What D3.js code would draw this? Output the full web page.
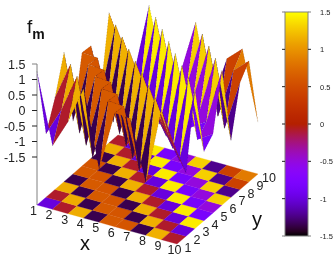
<!DOCTYPE html>
<html><head><meta charset="utf-8">
<script src="https://cdnjs.cloudflare.com/ajax/libs/d3/7.8.5/d3.min.js"></script>
<style>html,body{margin:0;padding:0;background:#fff}svg{display:block;filter:blur(0.3px)}text{font-family:"Liberation Sans",Arial,sans-serif}</style>
</head><body><svg id="c" width="336" height="256"></svg>
<script>
// surface height for each value of x+y (2..20)
const sumKeys = [2,3,4,5,6,7,8,9,10,11,12,13,14,15,16,17,18,19,20];
const surfaceZ = [1.26,-1.0,-0.08,1.13,-1.35,0.62,0.58,-1.35,1.15,-0.08,-1.0,1.42,-0.82,-0.5,1.3,-1.22,0.4,0.85,-1.39];
const xTicks = [1,2,3,4,5,6,7,8,9,10];
const yTicks = [1,2,3,4,5,6,7,8,9,10];
const zTicks = [1.5,1,0.5,0,-0.5,-1,-1.5];
const cbTicks = [1.5,1,0.5,0,-0.5,-1,-1.5];

const svg = d3.select('#c');
const zOf = new Map(sumKeys.map((s,k)=>[s,surfaceZ[k]]));
const palette = t => {
  t=Math.max(0,Math.min(1,t));
  const r=Math.sqrt(t), g=t*t*t, b=Math.max(0,Math.sin(2*Math.PI*t));
  return `rgb(${Math.round(r*255)},${Math.round(g*255)},${Math.round(b*255)})`;
};
const color = d3.scaleSequential(palette).domain([-1.5,1.5]);

// oblique 3D projection expressed through linear scales
const xToPx = d3.scaleLinear().domain([1,10]).range([0,140]);
const xToPy = d3.scaleLinear().domain([1,10]).range([0,39]);
const yToPx = d3.scaleLinear().domain([1,10]).range([0,81]);
const yToPy = d3.scaleLinear().domain([1,10]).range([0,-70]);
const zToPy = d3.scaleLinear().domain([-1.5,1.5]).range([157,64]);
const X0=37, FLOOR=205;
const px=(x,y)=>X0+xToPx(x)+yToPx(y);
const py=(x,y,z)=>zToPy(z)+xToPy(x)+yToPy(y);
const floorY=(x,y)=>FLOOR+xToPy(x)+yToPy(y);

const cells=[];
for(const i of xTicks.slice(0,-1)) for(const j of yTicks.slice(0,-1)) cells.push({i,j,c:zOf.get(i+j+1)});
const corners=d=>[[d.i,d.j],[d.i+1,d.j],[d.i+1,d.j+1],[d.i,d.j+1]];

// z axis
const axisCol='#808080';
svg.append('line').attr('x1',X0).attr('x2',X0).attr('y1',zToPy(1.5)).attr('y2',FLOOR).attr('stroke',axisCol).attr('stroke-width',1);
svg.selectAll('.zt').data(zTicks).enter().append('line').attr('x1',X0-5).attr('x2',X0).attr('y1',zToPy).attr('y2',zToPy).attr('stroke',(d,k)=>k==0?axisCol:'#222').attr('stroke-width',1);
svg.selectAll('.zl').data(zTicks).enter().append('text').attr('x',X0-11.5).attr('y',d=>zToPy(d)+4.5).attr('text-anchor','end').attr('font-size',12.5).attr('fill','#222').text(d=>d);

// floor
svg.append('g').selectAll('polygon').data(cells).enter().append('polygon')
 .attr('points',d=>corners(d).map(([a,b])=>[px(a,b),floorY(a,b)].join(',')).join(' '))
 .attr('fill',d=>color(d.c)).attr('stroke',d=>color(d.c)).attr('stroke-width',.3);

// surface, back to front along the floor-plane depth
const order=cells.slice().sort((a,b)=>floorY(a.i,a.j)-floorY(b.i,b.j));
svg.append('g').selectAll('polygon').data(order).enter().append('polygon')
 .attr('points',d=>corners(d).map(([a,b])=>[px(a,b),py(a,b,zOf.get(a+b))].join(',')).join(' '))
 .attr('fill',d=>color(d.c)).attr('stroke','#000').attr('stroke-width',.3).attr('stroke-dasharray','1 2').attr('stroke-opacity',.5);

// floor tick labels
svg.selectAll('.xl').data(xTicks).enter().append('text').attr('x',d=>px(d,1)-3.5+(d==10?1:0)).attr('y',d=>floorY(d,1)+10).attr('text-anchor','middle').attr('font-size',12.5).attr('fill','#222').text(d=>d);
svg.selectAll('.yl').data(yTicks).enter().append('text').attr('x',d=>px(10,d)+11).attr('y',d=>floorY(10,d)+8).attr('text-anchor','middle').attr('font-size',12.5).attr('fill','#222').text(d=>d);

// axis labels
svg.append('text').attr('x',85).attr('y',250).attr('text-anchor','middle').attr('font-size',20).attr('fill','#111').text('x');
svg.append('text').attr('x',257).attr('y',226).attr('text-anchor','middle').attr('font-size',20).attr('fill','#111').text('y');
const fl=svg.append('text').attr('x',27).attr('y',33).attr('font-size',19).attr('fill','#111');
fl.append('tspan').text('f');
fl.append('tspan').attr('dy',6).attr('font-size',14).attr('font-weight','bold').text('m');

// colour bar
const cbY=d3.scaleLinear().domain([-1.5,1.5]).range([236,12]);
const grad=svg.append('defs').append('linearGradient').attr('id','g').attr('x1',0).attr('y1',1).attr('x2',0).attr('y2',0);
d3.range(0,1.0001,0.02).forEach(t=>grad.append('stop').attr('offset',t).attr('stop-color',palette(t)));
svg.append('rect').attr('x',285).attr('y',12).attr('width',23).attr('height',224).attr('fill','url(#g)').attr('stroke',axisCol).attr('stroke-width',1);
svg.selectAll('.cl').data(cbTicks).enter().append('line').attr('x1',282).attr('x2',285).attr('y1',cbY).attr('y2',cbY).attr('stroke',(d,k)=>(k==0||k==6)?axisCol:'#222');
svg.selectAll('.cr').data(cbTicks).enter().append('line').attr('x1',308).attr('x2',311).attr('y1',cbY).attr('y2',cbY).attr('stroke',(d,k)=>(k==0||k==6)?axisCol:'#222');
svg.selectAll('.ct').data(cbTicks).enter().append('text').attr('x',320).attr('y',d=>cbY(d)+3).attr('font-size',7.5).attr('fill','#222').text(d=>d);
</script></body></html>
